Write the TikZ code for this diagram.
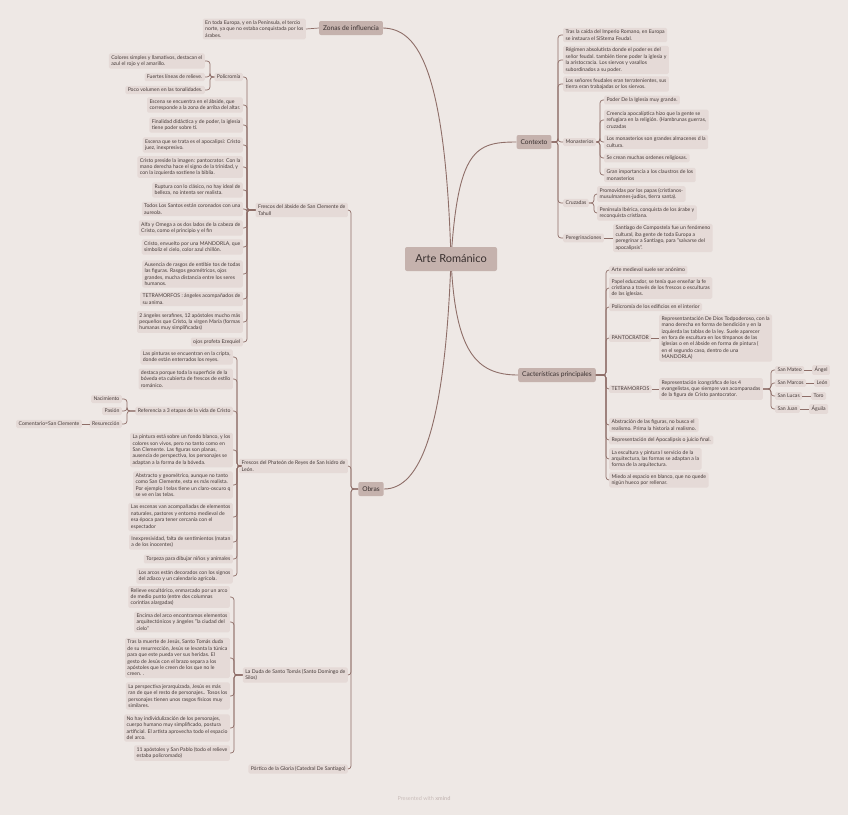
\documentclass[tikz,border=0pt]{standalone}
\usepackage{fontspec}
\setmainfont{Lato}
\definecolor{bgc}{HTML}{EEE8E5}
\definecolor{leafc}{HTML}{E5DAD7}
\definecolor{mainc}{HTML}{C5B2AD}
\definecolor{linec}{HTML}{8E6E68}
\definecolor{txtc}{HTML}{463B39}
\definecolor{footc}{HTML}{C9BDBA}
\newcommand\LL[3]{\node[leaf,anchor=east] (#1) at #2 {#3};}
\newcommand\RL[3]{\node[leaf,anchor=west] (#1) at #2 {#3};}
\newcommand\lk[3]{\draw[link] (#1) -- (#1 -| #3) |- (#2);}
\begin{document}
\begin{tikzpicture}[x=1pt,y=-1pt,
  leaf/.style={fill=leafc, rounded corners=1.5pt, inner xsep=2.4pt, inner ysep=2.1pt,
    font=\fontsize{5.15}{6.4}\selectfont, text=txtc, align=left},
  mainnode/.style={fill=mainc, rounded corners=2pt, inner xsep=4pt, inner ysep=3pt,
    minimum height=14pt, font=\fontsize{6.6}{8}\selectfont, text=txtc!80!black},
  centralnode/.style={fill=mainc, rounded corners=2pt, minimum width=92pt, minimum height=24pt,
    font=\fontsize{11}{13}\selectfont, text=txtc!80!black},
  link/.style={draw=linec, line width=0.7pt, rounded corners=3pt},
  mainlink/.style={draw=linec, line width=0.9pt}]
\fill[bgc] (0,0) rectangle (848,815);
\useasboundingbox (0,0) rectangle (848,815);

% spines
\coordinate (spctx) at (558,0);
\coordinate (spmon) at (600,0);
\coordinate (spcru) at (594,0);
\coordinate (spcar) at (606,0);
\coordinate (sptet) at (771,0);
\coordinate (spobr) at (351,0);
\coordinate (spsc) at (247,0);
\coordinate (sppol) at (210,0);
\coordinate (spsi) at (237,0);
\coordinate (spref) at (127,0);
\coordinate (spst) at (234,0);

% main nodes
\node[mainnode] (zon) at (351,28) {Zonas de influencia};
\node[mainnode] (ctx) at (534,142) {Contexto};
\node[mainnode] (car) at (557,375) {Cacterísticas principales};
\node[mainnode] (obr) at (371,489) {Obras};
\coordinate (cc) at (451,259);
\draw[mainlink] (cc) .. controls (445,60) and (415,29) .. (zon.east);
\draw[mainlink] (cc) .. controls (458,150) and (475,142) .. (ctx.west);
\draw[mainlink] (cc) .. controls (455,350) and (475,375) .. (car.west);
\draw[mainlink] (cc) .. controls (445,430) and (420,489) .. (obr.east);
\node[centralnode] (cen) at (451,259) {Arte Románico};

% Zonas
\LL{z1}{(306,29)}{En toda Europa, y en la Península, el tercio\\norte, ya que no estaba conquistada por los\\árabes.}
\draw[link] (zon.west) -- (z1.east);

% Contexto
\RL{c1}{(563,35)}{Tras la caída del Imperio Romano, en Europa\\se instaura el SiStema Feudal.}
\RL{c2}{(563,60)}{Régimen absolutista donde el poder es del\\señor feudal. también tiene poder la iglesia y\\la aristocracia. Los siervos y vasallos\\subordinados a su poder.}
\RL{c3}{(563,84)}{Los señores feudales eran terratenientes, sus\\tierra eran trabajadas or los siervos.}
\RL{mon}{(563,142)}{Monasterios}
\RL{cru}{(563,203)}{Cruzadas}
\RL{per}{(563,238)}{Peregrinaciones}
\foreach \n in {c1,c2,c3,mon,cru,per} {\lk{ctx.east}{\n.west}{spctx}}

\RL{m1}{(604,100)}{Poder De la Iglesia muy grande.}
\RL{m2}{(604,120)}{Creencia apocalíptica hizo que la gente se\\refugiara en la religión. (Hambrunas guerras,\\cruzadas}
\RL{m3}{(604,142)}{Los monasterios son grandes almacenes d la\\cultura.}
\RL{m4}{(604,158)}{Se crean muchas ordenes religiosas.}
\RL{m5}{(604,175)}{Gran importancia a los claustros de los\\monasterios}
\foreach \n in {m1,m2,m3,m4,m5} {\lk{mon.east}{\n.west}{spmon}}

\RL{cr1}{(597,194)}{Promovidas por los papas (cristianos-\\musulmannes-judíos, tierra santa).}
\RL{cr2}{(597,213)}{Península Ibérica, conquista de los árabe y\\reconquista cristiana.}
\foreach \n in {cr1,cr2} {\lk{cru.east}{\n.west}{spcru}}

\RL{pe1}{(613,238)}{Santiago de Compostela fue un fenómeno\\cultural, iba gente de toda Europa a\\peregrinar a Santiago, para "salvarse del\\apocalipsis".}
\draw[link] (per.east) -- (pe1.west);

% Caracteristicas
\RL{k1}{(609,270)}{Arte medieval suele ser anónimo}
\RL{k2}{(609,288)}{Papel educador, se tenía que enseñar la fe\\cristiana a través de los frescos o esculturas\\de las iglesias.}
\RL{k3}{(609,307)}{Policromía de los edificios en el interior}
\RL{pan}{(609,338)}{PANTOCRATOR}
\RL{tet}{(609,389)}{TETRAMORFOS}
\RL{k6}{(609,425)}{Abstración de las figuras, no busca el\\realismo. Prima la historia al realismo.}
\RL{k7}{(609,440)}{Representación del Apocalipsis o juicio final.}
\RL{k8}{(609,459)}{La escultura y pintura l servicio de la\\arquitectura, las formas se adaptan a la\\forma de la arquitectura.}
\RL{k9}{(609,480)}{Miedo al espacio en blanco, que no quede\\nigún hueco por rellenar.}
\foreach \n in {k1,k2,k3,pan,tet,k6,k7,k8,k9} {\lk{car.east}{\n.west}{spcar}}

\RL{pand}{(659,338)}{Representantación De Dios Todpoderoso, con la\\mano derecha en forma de bendición y en la\\izquierda las tablas de la ley. Suele aparecer\\en fora de escultura en los tímpanos de las\\iglesias o en el ábside en forma de pintura (\\en el segundo caso, dentro de una\\MANDORLA)}
\draw[link] (pan.east) -- (pand.west);
\RL{tetd}{(659,389)}{Representación icongráfica de los 4\\evangelistas, que siempre van acompanadas\\de la figura de Cristo pantocrator.}
\draw[link] (tet.east) -- (tetd.west);

\RL{s1}{(775,370)}{San Mateo}
\RL{s2}{(775,383)}{San Marcos}
\RL{s3}{(775,396)}{San Lucas}
\RL{s4}{(775,409)}{San Juan}
\foreach \n in {s1,s2,s3,s4} {\lk{tetd.east}{\n.west}{sptet}}
\RL{a1}{(812,370)}{Ángel}
\RL{a2}{(814,383)}{León}
\RL{a3}{(811,396)}{Toro}
\RL{a4}{(809,409)}{Águila}
\draw[link] (s1.east) -- (a1.west);
\draw[link] (s2.east) -- (a2.west);
\draw[link] (s3.east) -- (a3.west);
\draw[link] (s4.east) -- (a4.west);

% Obras
\LL{sc}{(348,210)}{Frescos del ábside de San Clemente de\\Tahull}
\LL{si}{(348,466)}{Frescos del Phateón de Reyes de San Isidro de\\León.}
\LL{st}{(348,675)}{La Duda de Santo Tomás (Santo Domingo de\\Silos)}
\LL{pg}{(348,769)}{Pórtico de la Gloria (Catedral De Santiago)}
\foreach \n in {sc,si,st,pg} {\lk{obr.west}{\n.east}{spobr}}

% San Clemente
\LL{pol}{(243,77)}{Policromía}
\LL{e1}{(243,105)}{Escena se encuentra en el ábside, que\\corresponde a la zona de arriba del altar.}
\LL{e2}{(243,125)}{Finalidad didáctica y de poder, la iglesia\\tiene poder sobre tí.}
\LL{e3}{(243,145)}{Escena que se trata es el apocalipsi: Cristo\\juez, inexpresivo.}
\LL{e4}{(243,167)}{Cristo preside la imagen: pantocrator. Con la\\mano derecha hace el signo de la trinidad, y\\con la izquierda sostiene la biblia.}
\LL{e5}{(243,190)}{Ruptura con lo clásico, no hay ideal de\\belleza, no intenta ser realista.}
\LL{e6}{(243,209)}{Todos Los Santos están coronados con una\\aureola.}
\LL{e7}{(243,228)}{Alfa y Omega a os dos lados de la cabeza de\\Cristo, como el principio y el fin}
\LL{e8}{(243,247)}{Cristo, envuelto por una MANDORLA, que\\simboliz el cielo, color azul chillón.}
\LL{e9}{(243,274)}{Ausencia de rasgos de entibie tos de todas\\las figuras. Rasgos geométricos, ojos\\grandes, mucha distancia entre los seres\\humanos.}
\LL{e10}{(243,299)}{TETRAMORFOS : ángeles acompañados de\\su anima.}
\LL{e11}{(243,322)}{2 ángeles serafines, 12 apóstoles mucho más\\pequeños que Cristo, la virgen María (formas\\humanas muy simplificadas)}
\LL{e12}{(243,342)}{ojos profeta Ezequiel}
\foreach \n in {pol,e1,e2,e3,e4,e5,e6,e7,e8,e9,e10,e11,e12} {\lk{sc.west}{\n.east}{spsc}}

\LL{p1}{(205,61)}{Colores simples y llamativos, destacan el\\azul el rojo y el amarillo.}
\LL{p2}{(205,77)}{Fuertes líneas de relieve.}
\LL{p3}{(205,90)}{Poco volumen en las tonalidades.}
\foreach \n in {p1,p2,p3} {\lk{pol.west}{\n.east}{sppol}}

% San Isidro
\LL{i1}{(233,357)}{Las pinturas se encuentran en la cripta,\\donde están enterrados los reyes.}
\LL{i2}{(233,379)}{destaca porque toda la superficie de la\\bóveda eta cubierta de frescos de estilo\\románico.}
\LL{ref}{(233,411)}{Referencia a 3 etapas de la vida de Cristo}
\LL{i4}{(233,450)}{La pintura está sobre un fondo blanco, y los\\colores son vivos, pero no tanto como en\\San Clemente. Las figuras son planas,\\ausencia de perspectiva, los personajes se\\adaptan a la forma de la bóveda.}
\LL{i5}{(233,485)}{Abstracto y geométrico, aunque no tanto\\como San Clemente, esta es más realista.\\Por ejemplo l telas tiene un claro-oscuro q\\se ve en las telas.}
\LL{i6}{(233,517)}{Las escenas van acompañadas de elementos\\naturales, pastores y entorno medieval de\\esa época para tener cercanía con el\\espectador}
\LL{i7}{(233,542)}{Inexpresividad, falta de sentimientos (matan\\a de los inocentes)}
\LL{i8}{(233,559)}{Torpeza para dibujar niños y animales}
\LL{i9}{(233,576)}{Los arcos están decorados con los signos\\del zdiaco y un calendario agrícola.}
\foreach \n in {i1,i2,ref,i4,i5,i6,i7,i8,i9} {\lk{si.west}{\n.east}{spsi}}

\LL{r1}{(122,399)}{Nacimiento}
\LL{r2}{(122,411)}{Pasión}
\LL{r3}{(122,424)}{Resurección}
\foreach \n in {r1,r2,r3} {\lk{ref.west}{\n.east}{spref}}
\LL{r4}{(82,424)}{Comentario=San Clemente}
\draw[link] (r3.west) -- (r4.east);

% Santo Tomas
\LL{t1}{(230,597)}{Relieve escultórico, enmarcado por un arco\\de medio punto (entre dos columnas\\corintias alargadas)}
\LL{t2}{(230,622)}{Encima del arco encontramos elementos\\arquitectónicos y ángeles "la ciudad del\\cielo"}
\LL{t3}{(230,658)}{Tras la muerte de Jesús, Santo Tomás duda\\de su resurrección, Jesús se levanta la túnica\\para que este pueda ver sus heridas. El\\gesto de Jesús con el brazo separa a los\\apóstoles que le creen de los que no le\\creen. .}
\LL{t4}{(230,696)}{La perspectiva jerarquizada, Jesús es más\\ran de que el resto de personajes.. Tosos los\\personajes tienen unos rasgos físicos muy\\similares.}
\LL{t5}{(230,728)}{No hay individulización de los personajes,\\cuerpo humano muy simplificado, postura\\artificial. El artista aprovecha todo el espacio\\del arco.}
\LL{t6}{(230,753)}{11 apóstoles y San Pablo (todo el relieve\\estaba policromado)}
\foreach \n in {t1,t2,t3,t4,t5,t6} {\lk{st.west}{\n.east}{spst}}

\node[text=footc, font=\fontsize{5.5}{7}\selectfont] (foot) at (424,798) {Presented with \textbf{xmind}};
\end{tikzpicture}
\end{document}
